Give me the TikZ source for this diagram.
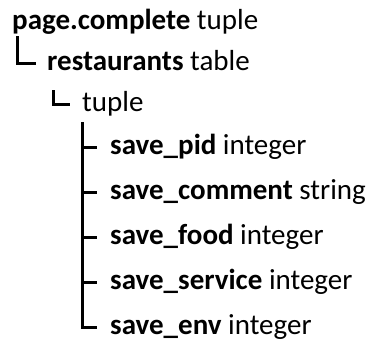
\documentclass[tikz,border=0pt]{standalone}
\usepackage{fontspec}
\setmainfont{Carlito}
\begin{document}
\begin{tikzpicture}[x=1pt,y=-1pt,
  lbl/.style={anchor=base west,inner sep=0pt,text height=18pt,text depth=4pt,
    font=\fontsize{29}{35}\selectfont},
  br/.style={line width=3pt,line join=miter}]
\useasboundingbox (0,0) rectangle (374,343);

% schema entries
\node[lbl] (root) at (12,29)  {\textbf{page.complete} tuple};
\node[lbl] (rest) at (47,70)  {\textbf{restaurants} table};
\node[lbl] (tup)  at (82,111) {tuple};
\node[lbl] (pid)  at (110,154) {\textbf{save\_pid} integer};
\node[lbl] (com)  at (110,199) {\textbf{save\_comment} string};
\node[lbl] (food) at (110,244) {\textbf{save\_food} integer};
\node[lbl] (serv) at (110,289) {\textbf{save\_service} integer};
\node[lbl] (env)  at (110,334) {\textbf{save\_env} integer};

% tree branches
\coordinate (b1) at (17,36);
\coordinate (b2) at (53,90);
\coordinate (b3) at (82,122);
\draw[br] (b1) |- ([xshift=-11pt]rest.west);
\draw[br] (b2) |- ([xshift=-12pt]tup.west);
\draw[br] (b3) |- ([xshift=-13pt]env.west);
\foreach \n in {pid,com,food,serv}
  \draw[br] (b3 |- \n.west) -- ([xshift=-13pt]\n.west);
\end{tikzpicture}
\end{document}
